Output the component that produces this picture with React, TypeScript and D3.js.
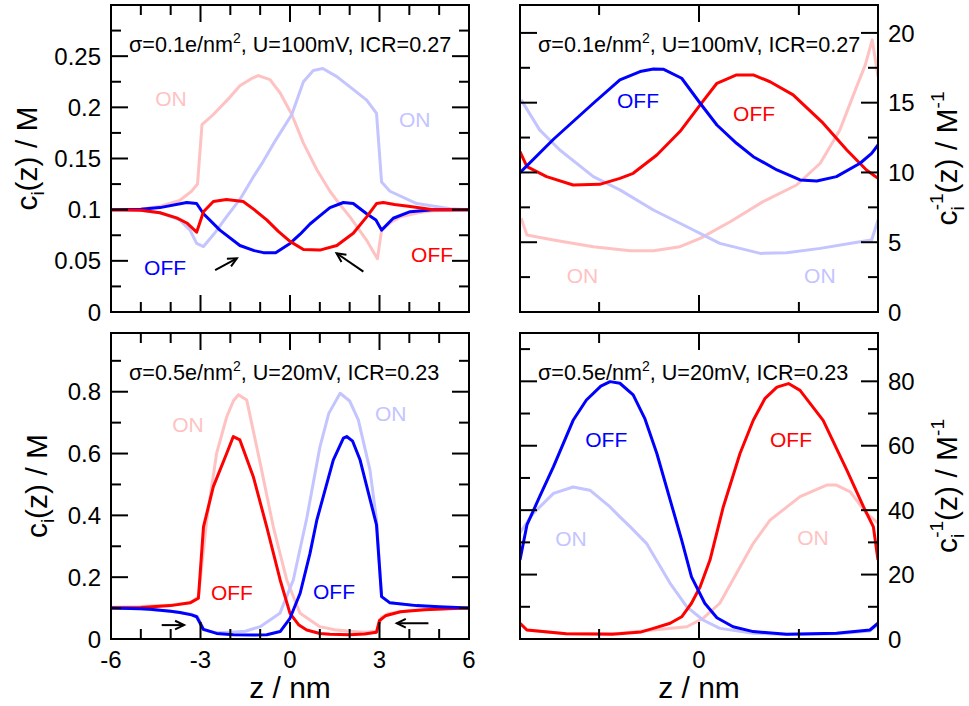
import React from "react";
import * as d3 from "d3";

type Pt = [number, number];

// ---------- colours ----------
const BLUE = "#0000ff";
const RED = "#ff0000";
const LBLUE = "#c4c4ff";
const LRED = "#ffc2c2";
const FONT = "'Liberation Sans', Arial, Helvetica, sans-serif";

// ---------- top-left: c_i(z), sigma=0.1, U=100mV ----------
const tlRedOn: Pt[] = [[-6,0.1],[-5,0.1005],[-4.4,0.103],[-3.7,0.109],[-3.3,0.118],[-3.1,0.125],[-2.95,0.183],[-2.57,0.193],[-2.01,0.21],[-1.68,0.221],[-1.3,0.228],[-1.06,0.231],[-0.67,0.227],[-0.33,0.214],[0.06,0.193],[0.45,0.165],[0.9,0.139],[1.34,0.118],[1.7,0.104],[2.01,0.093],[2.57,0.07],[2.93,0.052],[3.07,0.08],[3.4,0.088],[3.7,0.093],[4.3,0.097],[4.8,0.099],[6,0.1]];
const tlBlueOn: Pt[] = [[-6,0.1],[-5,0.0995],[-4.36,0.097],[-3.7,0.09],[-3.35,0.08],[-3.13,0.067],[-2.9,0.064],[-2.5,0.078],[-2.13,0.093],[-1.68,0.11],[-1.23,0.132],[-0.9,0.147],[-0.48,0.168],[0.06,0.193],[0.45,0.225],[0.78,0.236],[1.1,0.238],[1.57,0.23],[2.01,0.22],[2.57,0.207],[2.9,0.194],[3.07,0.127],[3.35,0.118],[4.25,0.106],[5.37,0.101],[6,0.1]];
const tlRedOff: Pt[] = [[-6,0.1],[-5,0.0995],[-4.36,0.097],[-3.8,0.092],[-3.46,0.087],[-3.13,0.078],[-2.9,0.098],[-2.57,0.108],[-2.13,0.11],[-1.57,0.108],[-1.2,0.1],[-0.78,0.09],[-0.4,0.079],[0,0.069],[0.45,0.061],[1.0,0.0605],[1.57,0.065],[2.12,0.077],[2.57,0.093],[2.9,0.106],[3.13,0.107],[3.5,0.105],[4.03,0.103],[4.8,0.1],[6,0.1]];
const tlBlueOff: Pt[] = [[-6,0.1],[-5,0.1005],[-4.36,0.102],[-3.46,0.107],[-3.13,0.106],[-2.9,0.096],[-2.35,0.08],[-1.68,0.065],[-1.2,0.06],[-0.89,0.058],[-0.48,0.058],[0,0.067],[0.34,0.076],[0.67,0.086],[1.0,0.094],[1.34,0.102],[1.79,0.107],[2.12,0.106],[2.57,0.096],[2.88,0.09],[3.07,0.08],[3.46,0.0916],[4.03,0.098],[4.8,0.1],[6,0.1]];

// ---------- top-right: 1/c_i(z) ----------
const trRedOn: Pt[] = [[-3.08,6.72],[-2.98,5.52],[-2.52,5.16],[-1.83,4.68],[-1.19,4.39],[-0.79,4.39],[-0.33,4.68],[0.02,5.28],[0.54,6.47],[1.11,7.91],[1.69,9.1],[2.1,10.66],[2.44,13.05],[2.73,16.15],[2.88,17.71],[3.0,19.5],[3.1,16.87]];
const trBlueOn: Pt[] = [[-3.08,15.2],[-2.76,13.05],[-2.41,11.61],[-1.83,9.7],[-1.37,8.75],[-0.79,7.31],[-0.21,6.11],[0.36,4.92],[1.06,4.2],[1.52,4.25],[2.1,4.56],[2.79,5.04],[2.99,5.16],[3.1,6.6]];
const trRedOff: Pt[] = [[-3.1,11.49],[-2.98,10.42],[-2.64,9.7],[-2.18,9.1],[-1.72,9.15],[-1.37,9.58],[-1.14,9.94],[-0.73,11.25],[-0.33,12.93],[0.02,14.84],[0.31,16.39],[0.65,16.99],[0.94,16.99],[1.23,16.5],[1.63,15.56],[2.15,13.53],[2.56,11.61],[2.9,10.18],[3.1,9.58]];
const trBlueOff: Pt[] = [[-3.1,9.99],[-2.52,12.38],[-1.83,14.96],[-1.37,16.63],[-1.02,17.23],[-0.79,17.42],[-0.62,17.4],[-0.3,16.75],[0.02,14.96],[0.31,13.4],[0.65,12.09],[0.94,11.13],[1.35,10.18],[1.75,9.46],[2.04,9.39],[2.38,9.7],[2.79,10.66],[2.99,11.37],[3.1,11.97]];

// ---------- bottom-left: c_i(z), sigma=0.5, U=20mV ----------
const blRedOn: Pt[] = [[-6,0.103],[-5,0.105],[-4,0.11],[-3.35,0.117],[-3.07,0.137],[-2.79,0.385],[-2.46,0.601],[-2.12,0.719],[-1.9,0.77],[-1.73,0.79],[-1.45,0.773],[-1.0,0.569],[-0.56,0.363],[-0.11,0.191],[0.34,0.083],[1.0,0.04],[1.5,0.03],[2.0,0.025],[2.5,0.022],[2.9,0.025],[3.07,0.07],[3.3,0.082],[4,0.092],[5,0.098],[6,0.1]];
const blBlueOn: Pt[] = [[-6,0.1],[-5,0.098],[-4,0.09],[-3.3,0.08],[-3.1,0.072],[-2.9,0.03],[-2.5,0.02],[-2,0.022],[-1.5,0.025],[-1.0,0.04],[-0.34,0.083],[0.11,0.191],[0.56,0.39],[1.0,0.62],[1.3,0.73],[1.68,0.795],[2.0,0.77],[2.29,0.709],[2.68,0.547],[2.9,0.385],[3.07,0.137],[3.35,0.117],[3.69,0.113],[4.25,0.107],[5,0.103],[6,0.1]];
const blRedOff: Pt[] = [[-6,0.1],[-5,0.102],[-4.5,0.105],[-4,0.108],[-3.35,0.117],[-3.07,0.132],[-2.9,0.363],[-2.57,0.493],[-2.12,0.601],[-1.9,0.655],[-1.68,0.644],[-1.23,0.525],[-0.78,0.363],[-0.33,0.191],[0,0.083],[0.3,0.045],[0.56,0.029],[1.0,0.018],[1.34,0.015],[2.0,0.014],[2.5,0.016],[2.9,0.022],[3.0,0.06],[3.2,0.075],[3.7,0.088],[4.5,0.095],[5.3,0.098],[6,0.1]];
const blBlueOff: Pt[] = [[-6,0.1],[-5,0.098],[-4.69,0.096],[-4,0.09],[-3.69,0.086],[-3.3,0.078],[-3.13,0.072],[-2.9,0.031],[-2.46,0.018],[-1.9,0.014],[-1.2,0.013],[-0.78,0.014],[-0.33,0.024],[0,0.067],[0.34,0.148],[0.67,0.277],[0.9,0.385],[1.0,0.42],[1.45,0.579],[1.79,0.65],[1.9,0.655],[2.1,0.64],[2.35,0.579],[2.9,0.369],[3.07,0.137],[3.35,0.117],[4.25,0.108],[5,0.104],[6,0.1]];

// ---------- bottom-right: 1/c_i(z) ----------
const brRedOn: Pt[] = [[-3.1,4.9],[-2.98,2.8],[-2.3,1.6],[-1.37,1.8],[-0.21,3.8],[0.07,6.4],[0.36,11.1],[0.65,20.4],[0.94,29.7],[1.23,36.9],[1.75,44.2],[2.21,47.8],[2.38,47.8],[2.62,45.7],[2.9,39],[3.1,36]];
const brBlueOn: Pt[] = [[-3.1,33],[-2.87,39],[-2.52,45.2],[-2.18,47.2],[-1.89,46.2],[-1.54,41],[-1.37,37.9],[-1.19,34.8],[-0.91,29.7],[-0.5,17.3],[-0.21,10],[0.07,5.9],[0.36,3.3],[0.94,1.8],[1.52,1.4],[2.38,1.6],[2.96,2.5],[3.1,4.5]];
const brRedOff: Pt[] = [[-3.1,4.9],[-2.98,2.8],[-2.3,1.6],[-1.5,1.45],[-1.0,2.2],[-0.79,3.3],[-0.5,4.9],[-0.3,6.9],[-0.13,11.1],[0.02,16.2],[0.19,24.5],[0.42,41],[0.71,57.6],[0.94,67.9],[1.14,74.6],[1.35,78.2],[1.55,79.3],[1.75,77.2],[2.15,67.9],[2.56,52.4],[2.85,41],[3.02,34.8],[3.1,24.5]];
const brBlueOff: Pt[] = [[-3.1,24.5],[-2.98,35.4],[-2.76,44.2],[-2.52,53.5],[-2.18,67.9],[-1.95,74.2],[-1.7,78.5],[-1.54,79.9],[-1.37,79.4],[-1.14,75.8],[-0.94,68.5],[-0.73,57.6],[-0.5,43.2],[-0.3,30.7],[-0.13,19.3],[0.1,11.1],[0.31,6.6],[0.59,3.8],[0.94,2.3],[1.52,1.45],[2.38,1.8],[2.96,2.8],[3.1,4.9]];

// ---------- axes ----------
const leftXMajor = [-6, -3, 0, 3, 6];
const leftXMinor = [-5, -4, -2, -1, 1, 2, 4, 5];
const rightXMajor = [0];
const rightXMinor = [-1.73, 1.73];
const tlYMajor = [0, 0.05, 0.1, 0.15, 0.2, 0.25];
const tlYMinor = [0.025, 0.075, 0.125, 0.175, 0.225, 0.275];
const trYMajor = [0, 5, 10, 15, 20];
const trYMinor = [2.5, 7.5, 12.5, 17.5];
const blYMajor = [0, 0.2, 0.4, 0.6, 0.8];
const blYMinor = [0.1, 0.3, 0.5, 0.7, 0.9];
const brYMajor = [0, 20, 40, 60, 80];
const brYMinor = [10, 30, 50, 70, 90];

// ---------- annotations ----------
const annSigma = ["0.1", "0.1", "0.5", "0.5"];
const annU = ["100mV", "100mV", "20mV", "20mV"];
const annICR = ["0.27", "0.27", "0.23", "0.23"];

type Lab = { t: string; x: number; y: number; c: string };
const tlLabels: Lab[] = [
  { t: "ON", x: -4.52, y: 0.2013, c: LRED },
  { t: "ON", x: 3.65, y: 0.1808, c: LBLUE },
  { t: "OFF", x: -4.89, y: 0.0362, c: BLUE },
  { t: "OFF", x: 4.06, y: 0.0489, c: RED },
];
const trLabels: Lab[] = [
  { t: "OFF", x: -1.42, y: 14.62, c: BLUE },
  { t: "OFF", x: 0.59, y: 13.69, c: RED },
  { t: "ON", x: -2.29, y: 2.08, c: LRED },
  { t: "ON", x: 1.82, y: 2.08, c: LBLUE },
];
const blLabels: Lab[] = [
  { t: "ON", x: -3.95, y: 0.67, c: LRED },
  { t: "ON", x: 2.85, y: 0.705, c: LBLUE },
  { t: "OFF", x: -2.65, y: 0.126, c: RED },
  { t: "OFF", x: 0.77, y: 0.129, c: BLUE },
];
const brLabels: Lab[] = [
  { t: "OFF", x: -1.97, y: 59.6, c: BLUE },
  { t: "OFF", x: 1.23, y: 59.6, c: RED },
  { t: "ON", x: -2.49, y: 28.9, c: LBLUE },
  { t: "ON", x: 1.7, y: 29.2, c: LRED },
];

type Arrow = [Pt, Pt];
const tlArrows: Arrow[] = [
  [[-2.51, 0.041], [-1.78, 0.0525]],
  [[2.46, 0.0394], [1.56, 0.0574]],
];
const blArrows: Arrow[] = [
  [[-4.3, 0.045], [-3.55, 0.045]],
  [[4.64, 0.051], [3.58, 0.051]],
];

type Series = { data: Pt[]; color: string };

type PanelProps = {
  id: string;
  x0: number; y0: number; w: number; h: number;
  xDomain: [number, number]; yDomain: [number, number];
  xMajor: number[]; xMinor: number[];
  yMajor: number[]; yMinor: number[];
  showX: boolean; ySide: "left" | "right";
  series: Series[]; labels: Lab[]; arrows: Arrow[];
  ann: number;
};

const MAJ = 17;
const MIN = 10;

function Panel(p: PanelProps) {
  const x = d3.scaleLinear().domain(p.xDomain).range([p.x0, p.x0 + p.w]);
  const y = d3.scaleLinear().domain(p.yDomain).range([p.y0 + p.h, p.y0]);
  const line = d3.line<Pt>().x((d) => x(d[0])).y((d) => y(d[1]));
  const bottom = p.y0 + p.h;
  const right = p.x0 + p.w;
  const fmt = (v: number) => String(+v.toFixed(3));
  return (
    <g>
      <defs>
        <clipPath id={p.id}>
          <rect x={p.x0} y={p.y0} width={p.w} height={p.h} />
        </clipPath>
      </defs>
      <g clipPath={`url(#${p.id})`} fill="none" strokeLinejoin="round">
        {p.series.map((s, i) => (
          <path key={i} d={line(s.data) || ""} stroke={s.color} strokeWidth={3} />
        ))}
      </g>
      {/* ticks */}
      <g stroke="#000" strokeWidth={2}>
        {p.xMajor.map((v) => (
          <g key={"xM" + v}>
            <line x1={x(v)} x2={x(v)} y1={bottom} y2={bottom - MAJ} />
            <line x1={x(v)} x2={x(v)} y1={p.y0} y2={p.y0 + MAJ} />
          </g>
        ))}
        {p.xMinor.map((v) => (
          <g key={"xm" + v}>
            <line x1={x(v)} x2={x(v)} y1={bottom} y2={bottom - MIN} />
            <line x1={x(v)} x2={x(v)} y1={p.y0} y2={p.y0 + MIN} />
          </g>
        ))}
        {p.yMajor.map((v) => (
          <g key={"yM" + v}>
            <line x1={p.x0} x2={p.x0 + MAJ} y1={y(v)} y2={y(v)} />
            <line x1={right} x2={right - MAJ} y1={y(v)} y2={y(v)} />
          </g>
        ))}
        {p.yMinor.map((v) => (
          <g key={"ym" + v}>
            <line x1={p.x0} x2={p.x0 + MIN} y1={y(v)} y2={y(v)} />
            <line x1={right} x2={right - MIN} y1={y(v)} y2={y(v)} />
          </g>
        ))}
      </g>
      <rect x={p.x0} y={p.y0} width={p.w} height={p.h} fill="none" stroke="#000" strokeWidth={2} />
      {/* tick labels */}
      <g fontFamily={FONT} fontSize={24} fill="#000">
        {p.yMajor.map((v) => (
          <text
            key={"yl" + v}
            x={p.ySide === "left" ? p.x0 - 10 : right + 10}
            y={y(v)}
            dy="0.36em"
            textAnchor={p.ySide === "left" ? "end" : "start"}
          >
            {fmt(v)}
          </text>
        ))}
        {p.showX &&
          p.xMajor.map((v) => (
            <text key={"xl" + v} x={x(v)} y={bottom + 29} textAnchor="middle">
              {fmt(v)}
            </text>
          ))}
      </g>
      {/* annotation */}
      <text x={p.x0 + 18} y={p.y0 + 47} fontFamily={FONT} fontSize={21.6} fill="#000">
        {"σ=" + annSigma[p.ann] + "e/nm"}
        <tspan dy={-9} fontSize={14}>2</tspan>
        <tspan dy={9}>{", U=" + annU[p.ann] + ", ICR=" + annICR[p.ann]}</tspan>
      </text>
      {/* curve labels */}
      <g fontFamily={FONT} fontSize={21}>
        {p.labels.map((l, i) => (
          <text key={i} x={x(l.x)} y={y(l.y)} fill={l.c}>
            {l.t}
          </text>
        ))}
      </g>
      {/* arrows */}
      <g stroke="#000" strokeWidth={2} fill="none">
        {p.arrows.map((a, i) => {
          const x1 = x(a[0][0]), y1 = y(a[0][1]);
          const x2 = x(a[1][0]), y2 = y(a[1][1]);
          const ang = Math.atan2(y2 - y1, x2 - x1);
          const L = 10, s = 0.45;
          const ax = x2 - L * Math.cos(ang - s), ay = y2 - L * Math.sin(ang - s);
          const bx = x2 - L * Math.cos(ang + s), by = y2 - L * Math.sin(ang + s);
          return (
            <g key={i}>
              <line x1={x1} y1={y1} x2={x2} y2={y2} />
              <path d={`M${ax},${ay}L${x2},${y2}L${bx},${by}`} />
            </g>
          );
        })}
      </g>
    </g>
  );
}

export default function App() {
  const L = { x0: 111, w: 358 };
  const R = { x0: 520, w: 358 };
  const T = { y0: 5, h: 307 };
  const B = { y0: 333, h: 306 };
  return (
    <svg
      width={969}
      height={706}
      style={{ position: "absolute", left: 0, top: 0, background: "#fff" }}
    >
      <rect width={969} height={706} fill="#fff" />
      <Panel
        id="c-tl" {...L} {...T} xDomain={[-6, 6]} yDomain={[0, 0.3]}
        xMajor={leftXMajor} xMinor={leftXMinor} yMajor={tlYMajor} yMinor={tlYMinor}
        showX={false} ySide="left"
        series={[
          { data: tlRedOn, color: LRED }, { data: tlBlueOn, color: LBLUE },
          { data: tlBlueOff, color: BLUE }, { data: tlRedOff, color: RED },
        ]}
        labels={tlLabels} arrows={tlArrows} ann={0}
      />
      <Panel
        id="c-tr" {...R} {...T} xDomain={[-3.1, 3.1]} yDomain={[0, 22]}
        xMajor={rightXMajor} xMinor={rightXMinor} yMajor={trYMajor} yMinor={trYMinor}
        showX={false} ySide="right"
        series={[
          { data: trRedOn, color: LRED }, { data: trBlueOn, color: LBLUE },
          { data: trRedOff, color: RED }, { data: trBlueOff, color: BLUE },
        ]}
        labels={trLabels} arrows={[]} ann={1}
      />
      <Panel
        id="c-bl" {...L} {...B} xDomain={[-6, 6]} yDomain={[0, 0.99]}
        xMajor={leftXMajor} xMinor={leftXMinor} yMajor={blYMajor} yMinor={blYMinor}
        showX={true} ySide="left"
        series={[
          { data: blRedOn, color: LRED }, { data: blBlueOn, color: LBLUE },
          { data: blRedOff, color: RED }, { data: blBlueOff, color: BLUE },
        ]}
        labels={blLabels} arrows={blArrows} ann={2}
      />
      <Panel
        id="c-br" {...R} {...B} xDomain={[-3.1, 3.1]} yDomain={[0, 95]}
        xMajor={rightXMajor} xMinor={rightXMinor} yMajor={brYMajor} yMinor={brYMinor}
        showX={true} ySide="right"
        series={[
          { data: brRedOn, color: LRED }, { data: brBlueOn, color: LBLUE },
          { data: brRedOff, color: RED }, { data: brBlueOff, color: BLUE },
        ]}
        labels={brLabels} arrows={[]} ann={3}
      />
      {/* axis titles */}
      <g fontFamily={FONT} fontSize={30} fill="#000">
        <text x={290} y={698} textAnchor="middle">z / nm</text>
        <text x={699} y={698} textAnchor="middle">z / nm</text>
        <text transform="translate(37,158.5) rotate(-90)" textAnchor="middle">
          c<tspan dy={7} fontSize={19}>i</tspan>
          <tspan dy={-7}>(z) / M</tspan>
        </text>
        <text transform="translate(47,486) rotate(-90)" textAnchor="middle">
          c<tspan dy={7} fontSize={19}>i</tspan>
          <tspan dy={-7}>(z) / M</tspan>
        </text>
        <text transform="translate(957,158.5) rotate(-90)" textAnchor="middle">
          c<tspan dy={7} fontSize={19}>i</tspan>
          <tspan dx={-4} dy={-21} fontSize={19}>-1</tspan>
          <tspan dy={14}>(z) / M</tspan>
          <tspan dy={-13} fontSize={19}>-1</tspan>
        </text>
        <text transform="translate(957,486) rotate(-90)" textAnchor="middle">
          c<tspan dy={7} fontSize={19}>i</tspan>
          <tspan dx={-4} dy={-21} fontSize={19}>-1</tspan>
          <tspan dy={14}>(z) / M</tspan>
          <tspan dy={-13} fontSize={19}>-1</tspan>
        </text>
      </g>
    </svg>
  );
}
